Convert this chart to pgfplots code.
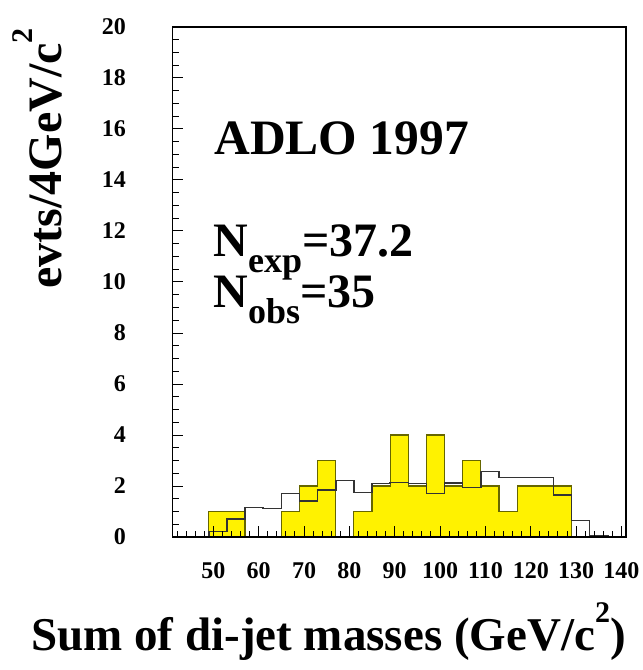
\documentclass[border=0pt]{standalone}
\usepackage{fontspec}
\setmainfont{Liberation Serif}
\usepackage{pgfplots}
\pgfplotsset{compat=1.18}
\definecolor{mcline}{rgb}{0.2,0.2,0.2}
\definecolor{dataedge}{rgb}{0.4,0.4,0}
\newcommand{\bigsub}[1]{\raisebox{-16pt}{\fontsize{36}{36}\selectfont #1}}
\begin{document}
\begin{tikzpicture}
\path[use as bounding box] (-172.5pt,-133pt) rectangle (470.5pt,537pt);
\begin{axis}[
  scale only axis, width=453.5pt, height=510pt,
  xmin=41, xmax=141, ymin=0, ymax=20,
  xtick={50,60,...,140}, ytick={0,2,...,20},
  minor xtick={42,44,...,140}, minor ytick={0.5,1,...,20},
  xtick pos=bottom, ytick pos=left, tick align=inside,
  major tick length=11pt, minor tick length=6.5pt,
  axis line style={line width=1.2pt},
  every tick/.style={line width=1pt,black},
  /pgf/number format/assume math mode=true,
  ticklabel style={font=\fontsize{24}{24}\selectfont\bfseries, inner sep=0pt},
  xticklabel style={anchor=base, yshift=-41pt},
  yticklabel style={anchor=east, xshift=-46.5pt},
  axis on top,
]
% data (yellow)
\addplot[const plot, fill=yellow, draw=dataedge, line width=1.2pt] coordinates {
  (41,0) (45,0) (49,1) (53,1) (57,0) (61,0) (65,1) (69,2) (73,3) (77,0)
  (81,1) (85,2) (89,4) (93,2) (97,4) (101,2) (105,3) (109,2) (113,1)
  (117,2) (121,2) (125,2) (129,0) (133,0) (137,0) (141,0)
} \closedcycle;
% expectation (open histogram)
\addplot[const plot, draw=mcline, line width=1.5pt] coordinates {
  (41,0) (45,0) (49,0.21) (53,0.71) (57,1.16) (61,1.11) (65,1.71) (69,1.42)
  (73,1.84) (77,2.21) (81,1.74) (85,2.1) (89,2.14) (93,2.1) (97,1.7)
  (101,2.12) (105,1.95) (109,2.56) (113,2.33) (117,2.33) (121,2.33)
  (125,1.65) (129,0.65) (133,0.03) (137,0.01) (141,0.01)
};
\node[anchor=base west, inner sep=0pt, font=\fontsize{49.5}{49.5}\selectfont\bfseries]
  at (axis cs:50.2,15) {ADLO 1997};
\node[anchor=base west, inner sep=0pt, font=\fontsize{48}{48}\selectfont\bfseries]
  at (axis cs:50,11) {N\bigsub{exp}=37.2};
\node[anchor=base west, inner sep=0pt, font=\fontsize{48}{48}\selectfont\bfseries]
  at (axis cs:50,9) {N\bigsub{obs}=35};
\end{axis}
\node[rotate=90, anchor=base east, inner sep=0pt, font=\fontsize{48}{48}\selectfont\bfseries]
  at (-110.5pt,509pt) {evts/4GeV/c\raisebox{29pt}{\fontsize{30}{30}\selectfont 2}};
\node[anchor=base west, inner sep=0pt, font=\fontsize{47}{47}\selectfont\bfseries]
  at (-141.5pt,-113pt) {Sum of di-jet masses (GeV/c\raisebox{28pt}{\fontsize{30}{30}\selectfont 2})};
\end{tikzpicture}
\end{document}
